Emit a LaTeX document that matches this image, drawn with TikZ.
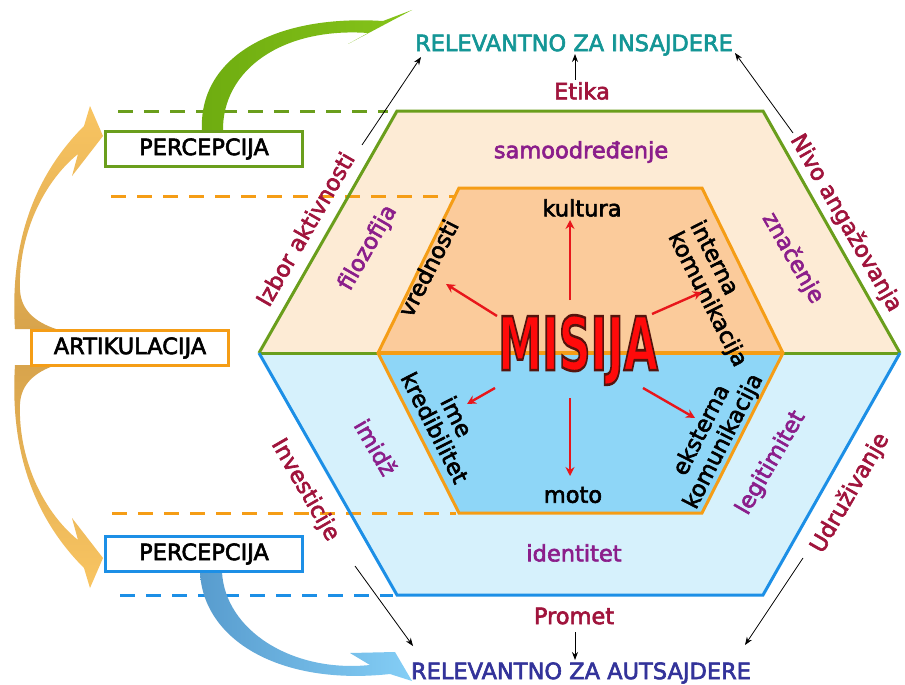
\documentclass[tikz,border=0pt]{standalone}
\usepackage{fontspec}
\setmainfont{DejaVu Sans}
\newfontfamily\misfont{DejaVu Sans Bold}
\usetikzlibrary{arrows.meta}
\definecolor{darkred}{HTML}{A0143C}
\definecolor{purp}{HTML}{8B1E8B}
\definecolor{tealc}{HTML}{149696}
\definecolor{indigoc}{HTML}{33339A}
\definecolor{peachL}{HTML}{FDEBD5}
\definecolor{peachD}{HTML}{FBCB9B}
\definecolor{blueL}{HTML}{D6F1FC}
\definecolor{blueD}{HTML}{8ED6F7}
\definecolor{grn}{HTML}{6A9E1C}
\definecolor{blu}{HTML}{1C8FE6}
\definecolor{orng}{HTML}{F59D16}
\definecolor{redc}{HTML}{E8161B}
\definecolor{misred}{HTML}{FF0A0A}
\definecolor{arrOL}{HTML}{F9C562}
\definecolor{arrOD}{HTML}{D8A44C}
\definecolor{arrGL}{HTML}{86C41A}
\definecolor{arrGD}{HTML}{6EAC10}
\definecolor{arrBD}{HTML}{589CCE}
\definecolor{arrBL}{HTML}{84CEF6}
\newcommand\fbon{\special{pdf:literal direct 2 Tr 0.6 w}}
\newcommand\fs{\fontsize{22.5}{24.5}\selectfont\fbon}
\newcommand\misword{\scalebox{0.6}[1]{\fontsize{74}{78}\misfont\special{pdf:literal direct 2 Tr 2.6 w 0.33 0.08 0.05 RG}MISIJA\special{pdf:literal direct 0 Tr}}}
\begin{document}
\begin{tikzpicture}[x=1pt,y=-1pt,
  lbl/.style={font=\fs, inner sep=0pt},
  redlbl/.style={lbl, text=darkred},
  purlbl/.style={lbl, text=purp},
  blklbl/.style={lbl, text=black},
  boxn/.style={draw, line width=3pt, fill=white, minimum width=197pt, minimum height=35pt, inner sep=0pt, font=\fs},
  redarr/.style={draw=redc, line width=2.4pt, -{Stealth[length=9pt,width=9pt]}},
  blkarr/.style={draw=black, line width=0.8pt, -{Stealth[length=8pt,width=6pt]}},
  dsh/.style={line width=3pt, dash pattern=on 15pt off 11pt},
]
\useasboundingbox (0,0) rectangle (905,685);
\fill[white] (0,0) rectangle (905,685);

% hexagon fills
\fill[peachL] (259,353) -- (397,111) -- (763,111) -- (900,353) -- cycle;
\fill[blueL] (259,353) -- (397,595) -- (763,595) -- (900,353) -- cycle;
\fill[peachD] (378,353) -- (459,188) -- (702,188) -- (783,353) -- cycle;
\fill[blueD] (378,353) -- (459,513) -- (702,513) -- (783,353) -- cycle;

% dashed guide lines
\draw[dsh, grn] (118,111) -- (388,111);
\draw[dsh, orng] (111,196) -- (455,196);
\draw[dsh, orng] (112,513) -- (456,513);
\draw[dsh, blu] (120,595) -- (393,595);

% hexagon borders
\draw[grn, line width=3pt, line join=miter] (259,353) -- (397,111) -- (763,111) -- (900,353);
\draw[grn, line width=3pt] (259,353) -- (378,353) (783,353) -- (900,353);
\draw[blu, line width=3pt, line join=miter] (259,353) -- (397,595) -- (763,595) -- (900,353);
\draw[orng, line width=3pt, line join=miter] (378,353) -- (459,188) -- (702,188) -- (783,353) -- (702,513) -- (459,513) -- cycle;
\draw[orng, line width=4pt] (378,353) -- (783,353);

% big curved arrows
\shade[top color=arrOL, bottom color=arrOD]
  (15,329) .. controls (10,250) and (30,180) .. (84,126) -- (90,106) -- (103,136) -- (72,176) -- (78,154)
  .. controls (40,185) and (18,240) .. (20,290) .. controls (21,310) and (35,322) .. (56,329) -- cycle;
\shade[bottom color=arrOL, top color=arrOD]
  (15,365) .. controls (10,444) and (30,514) .. (84,568) -- (90,588) -- (103,558) -- (72,518) -- (78,540)
  .. controls (40,509) and (18,454) .. (20,404) .. controls (21,384) and (35,372) .. (56,365) -- cycle;
\shade[left color=arrGD, right color=arrGL]
  (202,131) .. controls (198,60) and (270,14) .. (383,21) -- (412,10) -- (348,44) -- (368,33)
  .. controls (282,27) and (222,70) .. (223,131) -- cycle;
\shade[left color=arrBD, right color=arrBL]
  (200,572) .. controls (203,640) and (280,686) .. (390,674) -- (412,681) -- (395,652) -- (350,653) -- (370,665)
  .. controls (292,673) and (225,630) .. (222,572) -- cycle;

% boxes
\node[boxn, draw=grn] (perc1) at (204,149) {PERCEPCIJA};
\node[boxn, draw=orng] (artik) at (130,348) {ARTIKULACIJA};
\node[boxn, draw=blu] (perc2) at (204,554) {PERCEPCIJA};

% top and bottom titles
\node[lbl, text=tealc] (ins) at (574,45) {RELEVANTNO ZA INSAJDERE};
\node[lbl, text=indigoc] (auts) at (581,673) {RELEVANTNO ZA AUTSAJDERE};

% outer labels
\node[redlbl] (etika) at (582,91) {Etika};
\node[redlbl] (promet) at (574,616) {Promet};
\node[redlbl, rotate=60] (izbor) at (305,229) {Izbor aktivnosti};
\node[redlbl, rotate=-60] (nivo) at (846,223) {Nivo angažovanja};
\node[redlbl, rotate=-60] (invest) at (305,490) {Investicije};
\node[redlbl, rotate=60] (udruz) at (850,493) {Udruživanje};

% ring labels
\node[purlbl] (samo) at (581,152) {samoodređenje};
\node[purlbl, rotate=60] (filo) at (368,248) {filozofija};
\node[purlbl, rotate=-60] (znac) at (793,258) {značenje};
\node[purlbl, rotate=-60] (imidz) at (376,447) {imidž};
\node[purlbl, rotate=60] (legit) at (771,463) {legitimitet};
\node[purlbl] (ident) at (574,553) {identitet};

% inner labels
\node[blklbl] (kult) at (582,208) {kultura};
\node[blklbl, rotate=63] (vred) at (428,268) {vrednosti};
\node[blklbl, rotate=-63, align=left] (intk) at (718,294) {interna\\komunikacija};
\node[blklbl, rotate=-63, align=center] (imek) at (446,422) {ime\\kredibilitet};
\node[blklbl, rotate=63, align=center] (ekst) at (713,436) {eksterna\\komunikacija};
\node[blklbl] (moto) at (573,495) {moto};

% MISIJA
\node[inner sep=0pt, text=misred] (mis) at (578,350) {\misword};

% red arrows
\coordinate (r1a) at (570,300); \coordinate (r1b) at (570,220);
\coordinate (r2a) at (497,316); \coordinate (r2b) at (446,284);
\coordinate (r3a) at (652,314); \coordinate (r3b) at (702,292);
\coordinate (r4a) at (495,388); \coordinate (r4b) at (467,404);
\coordinate (r5a) at (643,388); \coordinate (r5b) at (695,418);
\coordinate (r6a) at (570,398); \coordinate (r6b) at (570,476);
\draw[redarr] (r1a) -- (r1b);
\draw[redarr] (r2a) -- (r2b);
\draw[redarr] (r3a) -- (r3b);
\draw[redarr] (r4a) -- (r4b);
\draw[redarr] (r5a) -- (r5b);
\draw[redarr] (r6a) -- (r6b);

% black arrows
\coordinate (b1a) at (575,80); \coordinate (b1b) at (575,54);
\coordinate (b2a) at (362,145); \coordinate (b2b) at (421,57);
\coordinate (b3a) at (793,133); \coordinate (b3b) at (735,53);
\coordinate (b4a) at (355,566); \coordinate (b4b) at (413,646);
\coordinate (b5a) at (803,558); \coordinate (b5b) at (745,645);
\coordinate (b6a) at (575,632); \coordinate (b6b) at (575,660);
\draw[blkarr] (b1a) -- (b1b);
\draw[blkarr] (b2a) -- (b2b);
\draw[blkarr] (b3a) -- (b3b);
\draw[blkarr] (b4a) -- (b4b);
\draw[blkarr] (b5a) -- (b5b);
\draw[blkarr] (b6a) -- (b6b);
\end{tikzpicture}
\end{document}
